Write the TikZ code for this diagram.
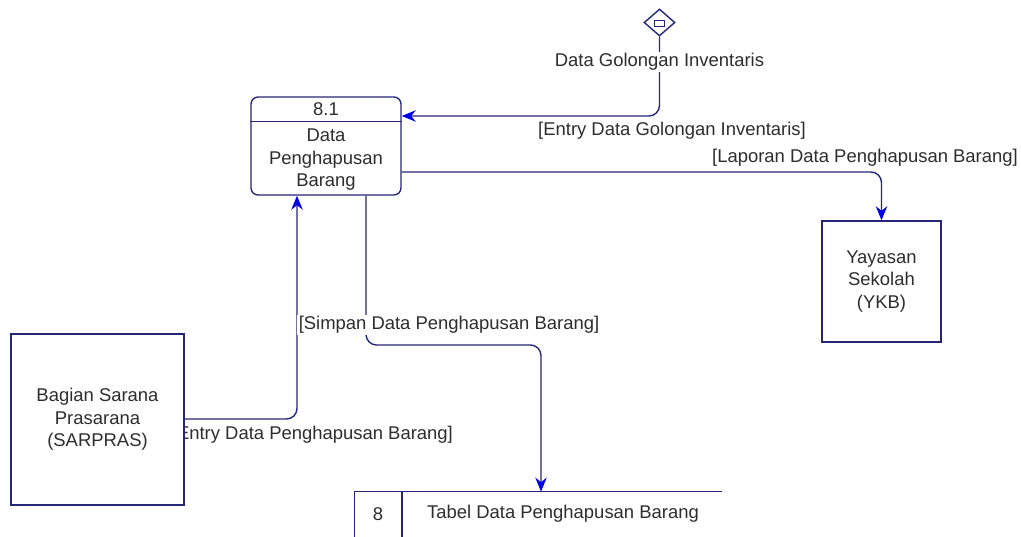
\documentclass[tikz,border=0pt]{standalone}
\usepackage{fontspec}
\setmainfont{Liberation Sans}
\usetikzlibrary{positioning}
\usetikzlibrary{arrows.meta}
\usetikzlibrary{shapes.geometric}
\definecolor{dfdline}{RGB}{38,38,120}
\definecolor{dfdtip}{RGB}{0,0,235}
\definecolor{dfdtext}{RGB}{45,45,45}
\tikzset{x=0.02cm, y=-0.02cm, % One unit is one pixel of the page
every node/.style={ % Sets the text of every node
font=\fontsize{10.5}{12.8}\selectfont,
text=dfdtext},
process/.style={ % Rounded box of a process
draw=dfdline, line width=0.8pt, rounded corners=4pt, fill=white,
minimum width=3cm, minimum height=1.96cm},
entity/.style={ % Square box of an outside party
draw=dfdline, line width=0.8pt, fill=white, align=center},
flow/.style={ % Sets the properties for each data flow
draw=dfdline, line width=0.8pt, rounded corners=6pt,
-{Stealth[length=8pt,width=6.5pt,color=dfdtip]}},
flowlabel/.style={fill=white, inner sep=1pt}}

\begin{document}
\begin{tikzpicture}
					\useasboundingbox (0,0) rectangle (1021,537);

					\node[process] (proc) at (326,146) {};
					\draw[dfdline, line width=0.8pt] ([yshift=-0.5cm]proc.north west) -- ([yshift=-0.5cm]proc.north east);
					\node (procid) at ([yshift=-0.25cm]proc.north) {8.1};
					\node[align=center] (procname) at (326,160) {Data\\Penghapusan\\Barang};

					\node[diamond, draw=dfdline, line width=0.8pt, inner sep=0, aspect=1.15,
						minimum width=0.62cm, minimum height=0.54cm] (gol) at (659.5,22.5) {};
					\draw[dfdline, line width=0.6pt] ([xshift=-0.1cm,yshift=-0.08cm]gol.center) rectangle ([xshift=0.1cm,yshift=0.04cm]gol.center);

					% label goes first: the box hides its bracket
					\node[anchor=east, inner sep=1pt] (f3) at (455,435) {[Entry Data Penghapusan Barang]};

					\node[entity, minimum width=2.38cm, minimum height=2.42cm] (ykb) at (881.5,281.5) {Yayasan\\Sekolah\\(YKB)};
					\node[entity, minimum width=3.46cm, minimum height=3.42cm] (sarpras) at (97.5,419.5) {Bagian Sarana\\Prasarana\\(SARPRAS)};

					\node[minimum width=7.34cm, minimum height=0.9cm, inner sep=0] (store) at (538.5,514.5) {};
					\draw[dfdline, line width=0.8pt] (store.north east) -- (store.north west) -- (store.south west);
					\draw[dfdline, line width=0.8pt] (store.north west -| 402,0) -- (store.south west -| 402,0);
					\node (storeid) at (378,514) {8};
					\node (storename) at (563,514) {Tabel Data Penghapusan Barang};

					\draw[flow] (gol.south) |- (proc.east |- 0,116);
					\node[flowlabel] (golname) at (659.5,62) {Data Golongan Inventaris};
					\node (f1) at (672,131) {[Entry Data Golongan Inventaris]};

					\draw[flow] (proc.east |- 0,172) -| (ykb.north);
					\node (f2) at (865,158) {[Laporan Data Penghapusan Barang]};

					\draw[flow] (sarpras.east |- 0,419) -| (proc.south -| 297,0);

					\draw[flow] (proc.south -| 366,0) |- (541,345) -- (store.north -| 541,0);
					\node[flowlabel] (f4) at (449,325) {[Simpan Data Penghapusan Barang]};
				\end{tikzpicture}
\end{document}
